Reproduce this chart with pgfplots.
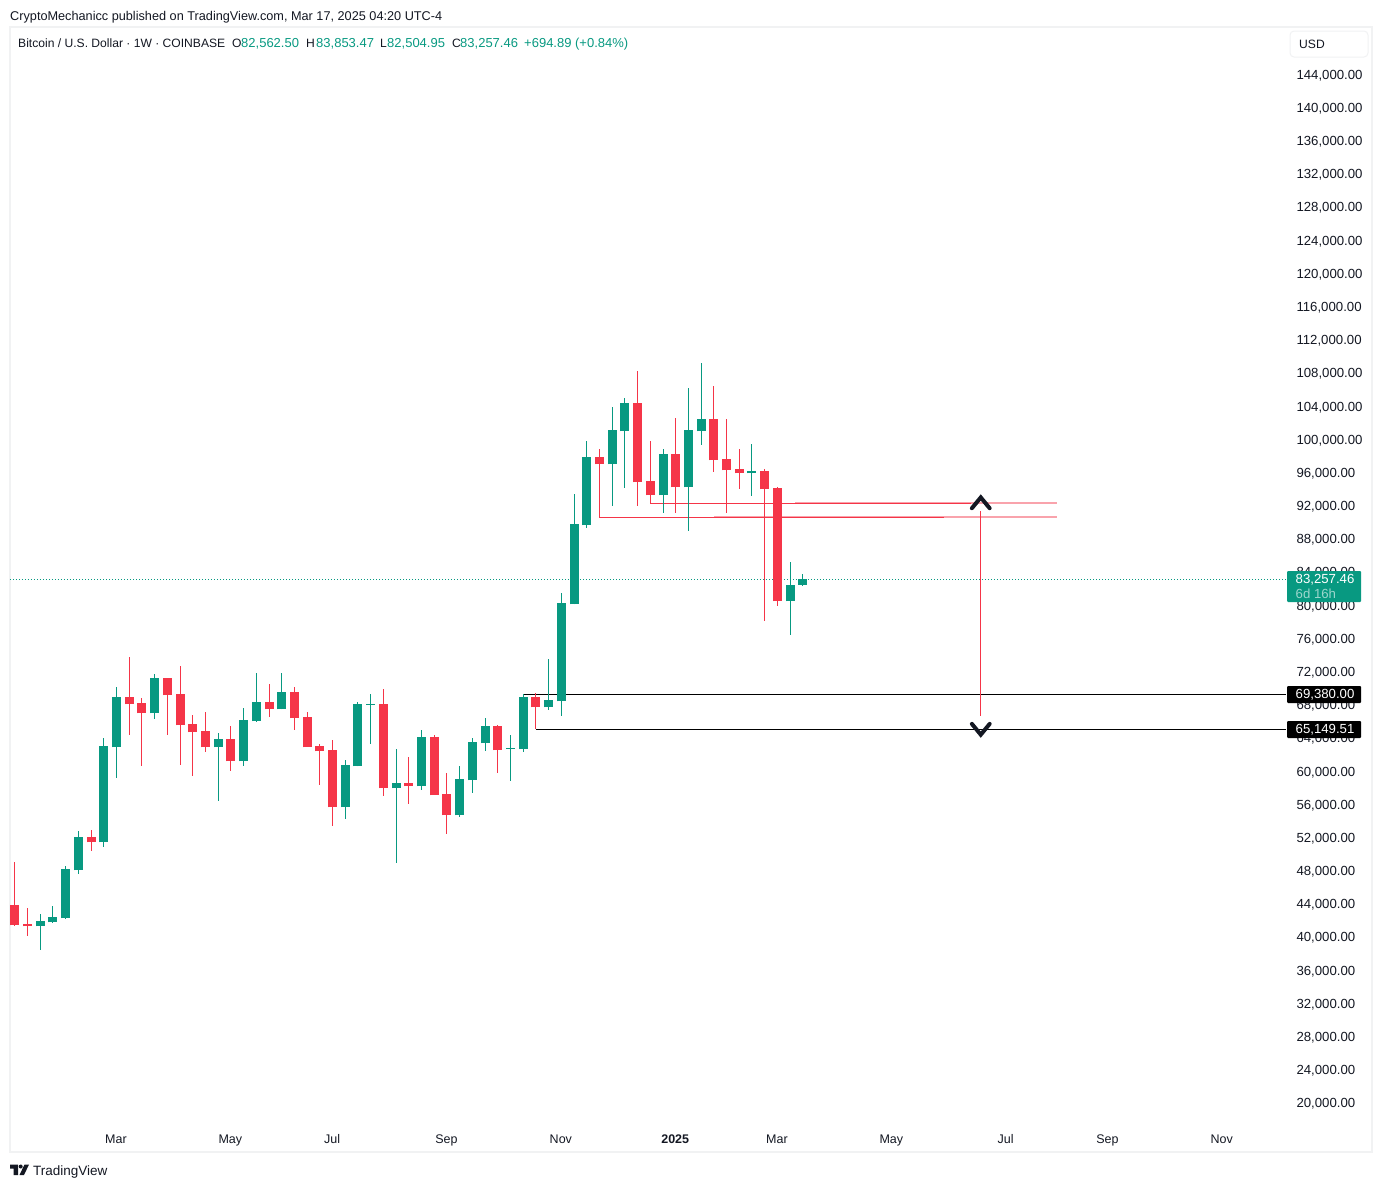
\documentclass[border=0pt]{standalone}
\usepackage{fontspec}
\setmainfont{Liberation Sans}
\usepackage{pgfplots}
\usepackage{pgfplotstable}
\pgfplotsset{compat=1.18}

\definecolor{up}{HTML}{089981}
\definecolor{down}{HTML}{F53548}
\definecolor{pink}{HTML}{F9A3AC}
\definecolor{ink}{HTML}{131722}
\definecolor{frame}{HTML}{F1F2F3}

% weekly candles, i o h l c
\pgfplotstableread{
i  o      h      l      c
2  41401  42847  38507  42004
3  41883  43812  41762  42486
4  42365  48635  42245  48273
5  48152  52854  47670  52131
7  51528  64067  50925  63102
8  62982  70215  59244  69010
11 67081  71783  66357  71301
16 62982  64670  56471  63946
18 61294  67684  60691  66237
19 66116  71903  65996  68407
21 67563  71903  67563  69613
26 55748  61414  54301  60811
27 60691  68407  60691  68166
28 68086  69372  63343  68166
30 58039  62741  48996  58641
32 58280  65031  57797  64187
35 54783  60691  54542  59124
36 59003  64067  57436  63584
37 63464  66478  62499  65513
39 62781  64428  58882  62861
40 62741  69380  62379  69010
42 67804  73591  67443  68648
43 68528  81548  66719  80342
44 80222  93484  80222  89867
45 89746  99874  89385  97945
47 97101  103973 92037  101200
48 101079 105058 94207  104455
51 93363  98909  91193  98306
53 94328  106264 89023  101200
54 101079 109278 99391  102526
58 96016  99512  93243  96257
61 80583  85285  76484  82512
62 82562.50 83853.47 82504.95 83257.46
}\upweeks

\pgfplotstableread{
i  o      h      l      c
0  43933  49117  41401  41521
1  41642  43571  40195  41401
6  52131  52975  50443  51528
9  69010  73832  64428  68166
10 68286  68889  60691  67081
12 71301  71301  64428  69251
13 69372  72747  60811  65634
14 65755  66840  59485  64790
15 64911  67201  62379  62982
17 63946  65513  60088  61294
20 68407  70577  66599  67563
22 69613  70215  65031  66478
23 66599  67201  62982  62982
24 63102  63343  58400  62499
25 62620  63826  53457  55748
29 68166  69974  57074  58039
31 58641  61776  56110  58280
33 64187  64428  57195  57195
34 57315  59847  52493  54783
38 65513  65634  59847  62620
41 69010  69492  65149.51 67804
46 97945  98909  90671  97101
49 104455 108313 92037  94931
50 95051  99874  92359  93363
52 98306  102647 91193  94328
55 102526 106505 96136  97583
56 97704  102526 91193  96377
57 96498  98909  94087  96016
59 96257  96498  78172  94087
60 94207  94328  79981  80583
}\downweeks

\pgfplotsset{
  wick/.style={draw=none, mark=none, forget plot,
    error bars/.cd, y dir=both, y explicit, error mark=none,
    error bar style={line width=1pt, color=#1}},
  body/.style={draw=none, mark=none, forget plot,
    error bars/.cd, y dir=plus, y explicit, error mark=none,
    error bar style={line width=9pt, color=#1}},
}

\begin{document}
\begin{tikzpicture}[x=1pt,y=-1pt]
\useasboundingbox (0,0) rectangle (1382,1187);
\begin{axis}[
    at={(10pt,-1152pt)}, anchor=south west,
    scale only axis, width=1362pt, height=1125pt,
    xmin=-0.378, xmax=106.78,
    ymin=14183, ymax=149817,
    axis line style={draw=frame, line width=2pt},
    major tick length=0pt,
    ytick={20000,24000,...,144000},
    ytick pos=right,
    yticklabel style={anchor=west, xshift=-79pt, yshift=-0.25pt, text=ink,
      font=\fontsize{13.2}{14}\selectfont,
      /pgf/number format/.cd, fixed, fixed zerofill, precision=2, 1000 sep={,}, assume math mode=true},
    scaled y ticks=false,
    xtick={8,17,25,34,43,52,60,69,78,86,95},
    xticklabels={Mar,May,Jul,Sep,Nov,\textbf{2025},Mar,May,Jul,Sep,Nov},
    xticklabel style={anchor=base, yshift=9pt, xshift=-0.5pt, text=ink,
      font=\fontsize{12.5}{14}\selectfont},
  ]
  % last price
  \addplot[up, line width=1pt, dash pattern=on 1pt off 2pt, forget plot] coordinates {(-0.378,83257.46) (100,83257.46)};
  % trend lines off the lows
  \addplot[pink, line width=2pt, forget plot] coordinates {(55,90760) (82,90760)};
  \addplot[pink, line width=2pt, forget plot] coordinates {(61.4,92400) (82,92400)};
  \addplot[down, line width=1pt, forget plot] coordinates {(46,90671) (73.1,90671)};
  \addplot[down, line width=1pt, forget plot] coordinates {(50,92359) (75.2,92359)};
  \addplot[black, line width=1pt, forget plot] coordinates {(40,69380) (100,69380)};
  \addplot[black, line width=1pt, forget plot] coordinates {(41,65149.51) (100,65149.51)};
  % move between the targets
  \addplot[down, line width=1pt, forget plot] coordinates {(76,91434) (76,66719)};
  \addplot[ink, line width=4pt, line cap=round, forget plot] coordinates {(75.3,91800) (76,93100) (76.7,91800)};
  \addplot[ink, line width=4pt, line cap=round, forget plot] coordinates {(75.3,65800) (76,64500) (76.7,65800)};
  % candles
  \addplot[wick=up] table[x=i, y=o, y error plus expr=\thisrow{h}-\thisrow{o}, y error minus expr=\thisrow{o}-\thisrow{l}] {\upweeks};
  \addplot[wick=down] table[x=i, y=o, y error plus expr=\thisrow{h}-\thisrow{o}, y error minus expr=\thisrow{o}-\thisrow{l}] {\downweeks};
  \addplot[body=up] table[x=i, y=o, y error plus expr=\thisrow{c}-\thisrow{o}] {\upweeks};
  \addplot[body=down] table[x=i, y=c, y error plus expr=\thisrow{o}-\thisrow{c}] {\downweeks};
\end{axis}

% price tags sit over the tick labels
\tikzset{tag/.style={inner sep=0pt, anchor=west, text=white, font=\fontsize{13.2}{14}\selectfont}}
\fill[up, rounded corners=1pt] (1287,571) rectangle (1361,602);
\node[tag] at (1295.5,579.7) {83,257.46};
\node[tag, text=white!60!up] at (1295.5,593.5) {6d 16h};
\fill[black, rounded corners=1pt] (1287,686) rectangle (1361,703);
\node[tag] at (1295.5,694.7) {69,380.00};
\fill[black, rounded corners=1pt] (1287,721) rectangle (1361,738);
\node[tag] at (1295.5,729.7) {65,149.51};

% header
\tikzset{head/.style={inner sep=0pt, anchor=base west, text=ink, font=\fontsize{12.1}{14}\selectfont},
  num/.style={head, text=up, font=\fontsize{13}{14}\selectfont}}
\node[head, font=\fontsize{12.7}{14}\selectfont] at (10,20.5) {CryptoMechanicc published on TradingView.com, Mar 17, 2025 04:20 UTC-4};
\node[head] at (18,47) {Bitcoin / U.S. Dollar · 1W · COINBASE};
\node[head] at (232,47) {O};
\node[num] at (241,47) {82,562.50};
\node[head] at (306,47) {H};
\node[num] at (316,47) {83,853.47};
\node[head] at (380,47) {L};
\node[num] at (387,47) {82,504.95};
\node[head] at (452,47) {C};
\node[num] at (460,47) {83,257.46};
\node[num] at (524,47) {+694.89 (+0.84\%)};
\draw[frame, line width=1pt, fill=white, rounded corners=4pt] (1290,31) rectangle (1368,57);
\node[head] at (1299,48) {USD};

% footer mark
\fill[ink] (10,1164.5) -- (18,1164.5) -- (18,1175) -- (13.5,1175) -- (13.5,1168.5) -- (10,1168.5) -- cycle;
\fill[ink] (20.7,1166.5) circle (2);
\fill[ink] (24.5,1164.5) -- (29,1164.5) -- (24,1175) -- (19.5,1175) -- cycle;
\node[head, font=\fontsize{13.5}{16}\selectfont] at (33,1175) {TradingView};
\end{tikzpicture}
\end{document}
